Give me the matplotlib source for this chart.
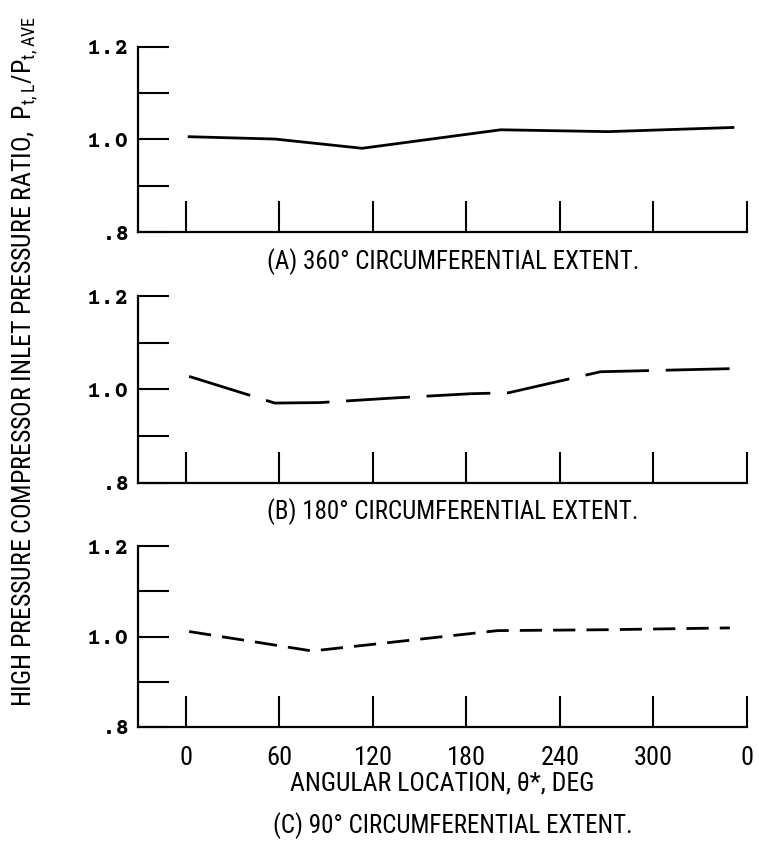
import matplotlib
matplotlib.use("Agg")
import matplotlib.pyplot as plt

# ---- data ----
angle_a = [2, 57, 113, 202, 271, 351]
ratio_a = [1.006, 1.001, 0.981, 1.021, 1.017, 1.026]

angle_b = [2, 57, 86, 134, 183, 207, 266, 355]
ratio_b = [1.028, 0.971, 0.972, 0.982, 0.991, 0.993, 1.038, 1.045]

angle_c = [2, 81, 200, 270, 349]
ratio_c = [1.011, 0.968, 1.013, 1.015, 1.019]

xticks = [0, 60, 120, 180, 240, 300, 360]
xticklabels = ["0", "60", "120", "180", "240", "300", "0"]
yticks = [0.8, 0.9, 1.0, 1.1, 1.2]
yticklabels = [".8", "", "1.0", "", "1.2"]

captions = ["(A) 360° CIRCUMFERENTIAL EXTENT.",
            "(B) 180° CIRCUMFERENTIAL EXTENT.",
            "(C) 90° CIRCUMFERENTIAL EXTENT."]

NARROW = ["Roboto Condensed", "Fira Sans Condensed", "Archivo Narrow", "DejaVu Sans"]
MONO = ["Courier Prime", "Liberation Mono", "DejaVu Sans Mono"]

fig = plt.figure(figsize=(7.59, 8.5), dpi=100)

W, H = 759, 850
left_px, right_px = 138, 747
panels = [(47, 232), (296, 483), (546, 727)]
series = [(angle_a, ratio_a, "solid"),
          (angle_b, ratio_b, (0, (23, 6))),
          (angle_c, ratio_c, (0, (8, 4)))]

axes = []
for (top, bot), (xs, ys, ls) in zip(panels, series):
    ax = fig.add_axes([left_px / W, 1 - bot / H, (right_px - left_px) / W, (bot - top) / H])
    ax.plot(xs, ys, color="black", lw=2.0, linestyle=ls)
    ax.set_xlim(-30.8, 360)
    ax.set_ylim(0.8, 1.2)
    for s in ["top", "right"]:
        ax.spines[s].set_visible(False)
    ax.spines["left"].set_linewidth(1.6)
    ax.spines["bottom"].set_linewidth(1.6)
    ax.set_xticks(xticks)
    ax.set_yticks(yticks)
    ax.set_yticklabels(yticklabels, family=MONO, fontsize=17, fontweight="bold")
    ax.tick_params(axis="x", direction="in", length=22, width=1.5, pad=14)
    ax.tick_params(axis="y", direction="in", length=22, width=1.5, pad=6)
    axes.append(ax)

for ax in axes[:2]:
    ax.set_xticklabels([])
axes[2].set_xticklabels(xticklabels, family=NARROW, fontsize=19)
axes[2].set_xlabel("ANGULAR LOCATION, θ*, DEG", family=NARROW, fontsize=18.5, labelpad=1)

cap_y = [262, 512, 826]
for cy, cap in zip(cap_y, captions):
    fig.text(453 / W, 1 - cy / H, cap, ha="center", va="center", family=NARROW, fontsize=18)

fig.text(25 / W, 1 - 362 / H,
         r"HIGH PRESSURE COMPRESSOR INLET PRESSURE RATIO,  $\mathregular{P_{t,L}/P_{t,AVE}}$",
         rotation=90, ha="center", va="center", family=NARROW, fontsize=18.5)

fig.savefig("out.png", dpi=100)
